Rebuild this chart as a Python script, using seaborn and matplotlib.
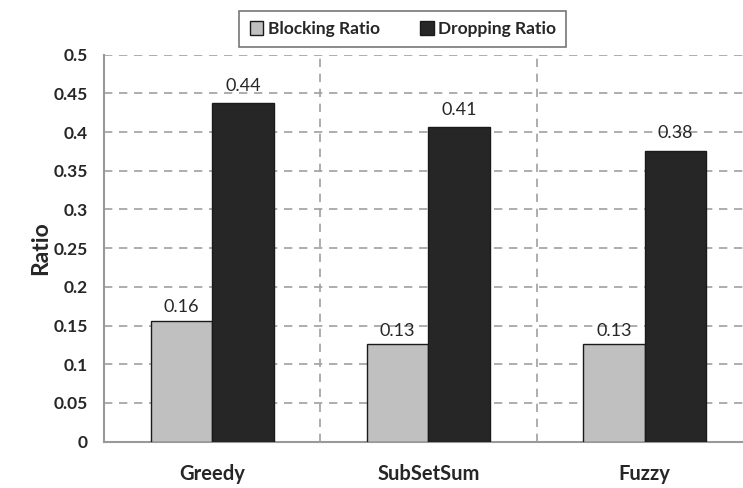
import numpy as np
import pandas as pd
import matplotlib
matplotlib.use("Agg")
import matplotlib.pyplot as plt
import seaborn as sns

sns.set_style("white")
plt.rcParams['font.family'] = ['Lato', 'DejaVu Sans']

methods = ['Greedy', 'SubSetSum', 'Fuzzy']
blocking = [0.156, 0.126, 0.126]
dropping = [0.437, 0.406, 0.376]
series = ['Blocking Ratio', 'Dropping Ratio']

df = pd.DataFrame({
    'method': methods * 2,
    'ratio': blocking + dropping,
    'series': [series[0]] * 3 + [series[1]] * 3,
})

fig = plt.figure(figsize=(7.43, 4.88), dpi=100)
ax = fig.add_axes([0.14, 0.095, 0.86, 0.793])

sns.barplot(data=df, x='method', y='ratio', hue='series',
            palette=['#c0c0c0', '#262626'], width=0.57,
            edgecolor='#1a1a1a', linewidth=1.0, ax=ax, zorder=3)

for cont, pad in zip(ax.containers, [4, 7]):
    ax.bar_label(cont, fmt='%.2f', padding=pad, fontsize=13)

yt = np.arange(0, 0.501, 0.05)
ax.set_ylim(0, 0.5)
ax.set_xlim(-0.5, 2.454)
ax.set_yticks(yt)
ax.set_yticklabels(['0' if v == 0 else ('%.2f' % v).rstrip('0') for v in yt],
                   fontsize=12.5, fontweight='bold')
ax.set_xticks([0, 1, 2])
ax.set_xticklabels(methods, fontsize=14.5, fontweight='bold')
ax.set_xticks([0.5, 1.5], minor=True)
ax.tick_params(axis='x', which='major', length=0, pad=16)
ax.tick_params(axis='x', which='minor', length=5, color='#999999', width=1.2, direction='out')
ax.tick_params(axis='y', length=3.5, color='#999999', width=1.2, direction='out', pad=8)

ax.grid(axis='y', which='major', linestyle=(0, (5, 4)), color='#a0a0a0', linewidth=1.2, zorder=0)
ax.grid(axis='x', which='minor', linestyle=(0, (5, 4)), color='#a0a0a0', linewidth=1.2, zorder=0)
ax.set_axisbelow(True)

for s in ['top', 'right']:
    ax.spines[s].set_visible(False)
for s in ['left', 'bottom']:
    ax.spines[s].set_color('#999999')
    ax.spines[s].set_linewidth(1.5)

ax.set_xlabel('')
ax.set_ylabel('Ratio', fontsize=16.5, fontweight='bold', labelpad=2)

handles, labels = ax.get_legend_handles_labels()
ax.legend_.remove()
leg = fig.legend(handles, labels, loc='center', bbox_to_anchor=(0.542, 0.9406), ncol=2,
                 frameon=True, fancybox=False, edgecolor='#555555',
                 prop={'weight': 'bold', 'size': 12.5}, handlelength=0.8, handleheight=0.8,
                 handletextpad=0.25, columnspacing=2.3, borderpad=0.6, borderaxespad=0)
leg.get_frame().set_linewidth(1.2)

fig.savefig('out.png', dpi=100)
